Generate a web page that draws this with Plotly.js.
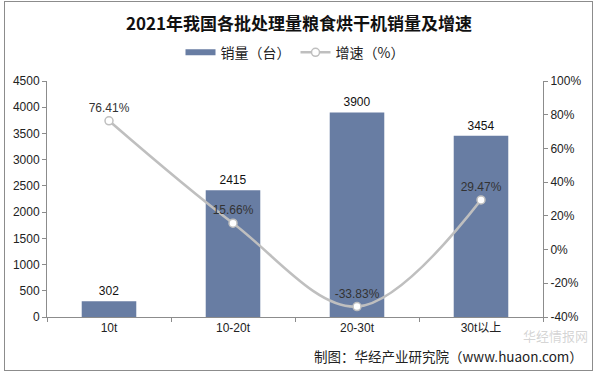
<!DOCTYPE html>
<html><head><meta charset="utf-8">
<script src="https://cdn.plot.ly/plotly-3.0.1.min.js"></script>
<style>
html,body{margin:0;padding:0;background:#fff;}
#wrap{position:relative;width:598px;height:375px;}
#chart{width:598px;height:375px;}
#frame{position:absolute;left:4px;top:1px;width:587px;height:368px;border:1px solid #8c8c8c;pointer-events:none;}
</style></head>
<body>
<div id="wrap"><div id="chart"></div><div id="frame"></div></div>
<script>
const categories = ['10t', '10-20t', '20-30t', '30t以上'];
const sales = [302, 2415, 3900, 3454];
const growth = [76.41, 15.66, -33.83, 29.47];
const growthLabels = ['76.41%', '15.66%', '-33.83%', '29.47%'];
const leftTicks = [0, 500, 1000, 1500, 2000, 2500, 3000, 3500, 4000, 4500];
const rightTicks = [-40, -20, 0, 20, 40, 60, 80, 100];

const cjk = '"Liberation Sans", "Noto Sans CJK SC", Arial, sans-serif';
const barColor = '#687DA3';

const traces = [
  {
    type: 'bar', name: '销量（台）', x: categories, y: sales,
    marker: {color: barColor}, width: 0.44, showlegend: false,
    text: sales.map(String), textposition: 'outside',
    textfont: {family: cjk, size: 12, color: '#111'},
    cliponaxis: false, hoverinfo: 'skip'
  },
  {
    /* legend-only entry so the bar swatch is a wide bar like the reference */
    type: 'scatter', name: '销量（台）', x: [null], y: [null], mode: 'lines',
    line: {color: barColor, width: 6}, showlegend: true, hoverinfo: 'skip', legendrank: 1
  },
  {
    type: 'scatter', name: '增速（%）', x: categories, y: growth, yaxis: 'y2',
    mode: 'lines+markers+text', legendrank: 2,
    line: {color: '#BFBFBF', width: 2.5, shape: 'spline', smoothing: 1},
    marker: {size: 8, color: '#ffffff', line: {color: '#BFBFBF', width: 1.5}},
    text: growthLabels, textposition: 'top center',
    textfont: {family: cjk, size: 12, color: '#333'},
    cliponaxis: false, hoverinfo: 'skip'
  }
];

const layout = {
  width: 598, height: 375,
  margin: {l: 47, r: 55, t: 81, b: 58},
  paper_bgcolor: '#fff', plot_bgcolor: '#fff',
  font: {family: cjk, size: 12, color: '#222'},
  title: {
    text: '<b>2021年我国各批处理量粮食烘干机销量及增速</b>',
    font: {family: '"Noto Sans CJK SC", sans-serif', size: 17, color: '#111'},
    x: 0.5, xanchor: 'center', y: 0.935, yanchor: 'middle'
  },
  showlegend: true,
  legend: {
    orientation: 'h', x: 0.5, xanchor: 'center', y: 1.12, yanchor: 'middle',
    font: {family: '"Noto Sans CJK SC", sans-serif', size: 14, color: '#222'},
    traceorder: 'normal', itemwidth: 30
  },
  xaxis: {
    type: 'category', showline: true, linecolor: '#8c8c8c', linewidth: 1,
    ticks: 'outside', ticklen: 4, tickcolor: '#8c8c8c', tickson: 'boundaries',
    showgrid: false, zeroline: false, fixedrange: true,
    tickfont: {family: cjk, size: 12, color: '#222'}
  },
  yaxis: {
    range: [0, 4500], tickvals: leftTicks, ticktext: leftTicks.map(String),
    showline: true, linecolor: '#8c8c8c', linewidth: 1,
    ticks: 'outside', ticklen: 4, tickcolor: '#8c8c8c',
    showgrid: false, zeroline: false, fixedrange: true,
    tickfont: {family: cjk, size: 12, color: '#222'}
  },
  yaxis2: {
    overlaying: 'y', side: 'right', range: [-40, 100],
    tickvals: rightTicks, ticktext: rightTicks.map(v => v + '%'),
    showline: true, linecolor: '#8c8c8c', linewidth: 1,
    ticks: 'outside', ticklen: 4, tickcolor: '#8c8c8c',
    showgrid: false, zeroline: false, fixedrange: true,
    tickfont: {family: cjk, size: 12, color: '#222'}
  },
  annotations: [
    {
      text: '华经情报网', xref: 'paper', yref: 'paper', x: 1.095, y: -0.08,
      xanchor: 'right', yanchor: 'middle', showarrow: false,
      font: {family: '"Noto Sans CJK SC", sans-serif', size: 13, color: 'rgba(160,160,160,0.45)'}
    },
    {
      text: '制图：华经产业研究院（www.huaon.com）', xref: 'paper', yref: 'paper',
      x: 1.085, y: -0.165, xanchor: 'right', yanchor: 'middle', showarrow: false,
      font: {family: '"Noto Sans CJK SC", sans-serif', size: 13.5, color: '#222'}
    }
  ]
};

Plotly.newPlot('chart', traces, layout, {staticPlot: true, displayModeBar: false});
</script>
</body></html>
